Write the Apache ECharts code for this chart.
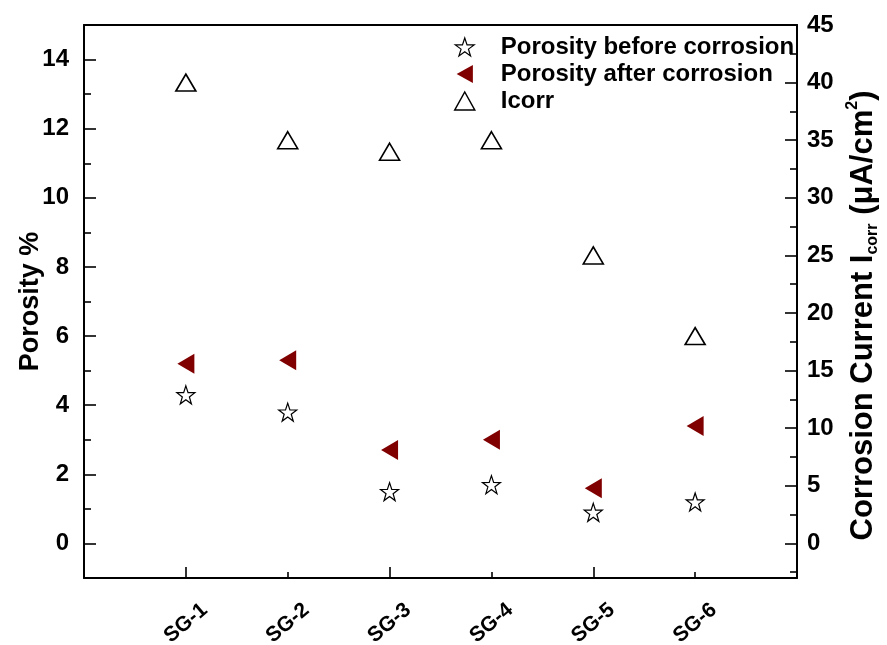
<!DOCTYPE html>
<html>
<head>
<meta charset="utf-8">
<script src="https://cdn.jsdelivr.net/npm/echarts@6/dist/echarts.min.js"></script>
<style>
html,body{margin:0;padding:0;background:#fff;}
#chart{width:887px;height:645px;}
</style>
</head>
<body>
<div id="chart"></div>
<script>
// Samples and measured values
const samples = ['SG-1', 'SG-2', 'SG-3', 'SG-4', 'SG-5', 'SG-6'];
const porosityBefore = [4.3, 3.8, 1.5, 1.7, 0.9, 1.2];
const porosityAfter = [5.2, 5.3, 2.7, 3.0, 1.6, 3.4];
const icorr = [40, 35, 34, 35, 25, 18];

// Tick positions
const leftTicks = [0, 2, 4, 6, 8, 10, 12, 14];
const leftMinor = [-1, 1, 3, 5, 7, 9, 11, 13, 15];
const rightTicks = [0, 5, 10, 15, 20, 25, 30, 35, 40, 45];
const rightMinor = [-2.5, 2.5, 7.5, 12.5, 17.5, 22.5, 27.5, 32.5, 37.5, 42.5];
const xLabelPos = [1, 2, 3, 4, 5, 6];
const xMajor = [1, 3, 5];
const xMinor = [2, 4, 6];

const FONT = '"Liberation Sans", Arial, sans-serif';
const STAR = 'path://M50,0 L61.8,35.1 L98.5,35.3 L69,57.2 L79.9,92.4 L50,71 L20.1,92.4 L31,57.2 L1.5,35.3 L38.2,35.1 Z';
const LEFT_TRI = 'path://M0,50 L90,0 L90,100 Z';

const xy = (vals) => vals.map((v, i) => [i + 1, v]);

const chart = echarts.init(document.getElementById('chart'), null, {renderer: 'canvas'});

const lineStyle = {color: '#000', width: 2};
const tickStyle = {color: '#000', width: 1.6};
const bold = (size) => ({fontFamily: FONT, fontWeight: 'bold', fontSize: size, color: '#000'});

chart.setOption({
  animation: false,
  backgroundColor: '#fff',
  grid: {left: 84, right: 90, top: 25, bottom: 67, containLabel: false, outerBoundsMode: 'none'},
  legend: {
    orient: 'vertical',
    left: 449,
    top: 30,
    itemGap: 3,
    itemWidth: 20,
    itemHeight: 18,
    textStyle: Object.assign(bold(24), {lineHeight: 22, padding: [0, 0, 0, 21]}),
    data: [
      {name: 'Porosity before corrosion', icon: STAR, itemStyle: {color: '#fff', borderColor: '#000', borderWidth: 1.2}},
      {name: 'Porosity after corrosion', icon: LEFT_TRI},
      {name: 'Icorr', icon: 'triangle', itemStyle: {color: '#fff', borderColor: '#000', borderWidth: 1.5}}
    ]
  },
  xAxis: [
    {
      type: 'value', min: 0, max: 7,
      axisLine: {onZero: false, lineStyle},
      axisTick: {inside: true, length: 11, lineStyle: tickStyle, customValues: xMajor},
      axisLabel: Object.assign(bold(21), {
        customValues: xLabelPos,
        formatter: v => samples[v - 1] || '',
        rotate: 40, margin: 45, align: 'center', verticalAlign: 'middle'
      }),
      splitLine: {show: false}
    },
    {
      type: 'value', min: 0, max: 7, position: 'bottom',
      axisLine: {onZero: false, show: false},
      axisTick: {inside: true, length: 6, lineStyle: tickStyle, customValues: xMinor},
      axisLabel: {show: false},
      splitLine: {show: false}
    },
    {
      type: 'value', min: 0, max: 7, position: 'top',
      axisLine: {onZero: false, lineStyle},
      axisTick: {show: false}, axisLabel: {show: false}, splitLine: {show: false}
    }
  ],
  yAxis: [
    {
      type: 'value', min: -1, max: 15, position: 'left',
      name: 'Porosity %', nameLocation: 'middle', nameGap: 40, nameMoveOverlap: false,
      nameTextStyle: bold(27),
      axisLine: {onZero: false, lineStyle},
      axisTick: {inside: true, length: 12, lineStyle: tickStyle, customValues: leftTicks},
      axisLabel: Object.assign(bold(24), {customValues: leftTicks, margin: 15}),
      splitLine: {show: false}
    },
    {
      type: 'value', min: -1, max: 15, position: 'left',
      axisLine: {onZero: false, show: false},
      axisTick: {inside: true, length: 7, lineStyle: tickStyle, customValues: leftMinor},
      axisLabel: {show: false}, splitLine: {show: false}
    },
    {
      type: 'value', min: -3, max: 45, position: 'right',
      name: '{t|Corrosion Current I}{s|corr}{t| (μA/cm}{p|2}{t|)}',
      nameLocation: 'middle', nameGap: 48, nameRotate: 90, nameMoveOverlap: false,
      nameTextStyle: Object.assign(bold(31), {
        padding: [0, 28, 0, 0],
        rich: {
          t: Object.assign(bold(31), {lineHeight: 36, verticalAlign: 'middle'}),
          s: Object.assign(bold(16), {lineHeight: 36, verticalAlign: 'bottom'}),
          p: Object.assign(bold(16), {lineHeight: 36, verticalAlign: 'top'})
        }
      }),
      axisLine: {onZero: false, lineStyle},
      axisTick: {inside: true, length: 12, lineStyle: tickStyle, customValues: rightTicks},
      axisLabel: Object.assign(bold(24), {customValues: rightTicks, margin: 10}),
      splitLine: {show: false}
    },
    {
      type: 'value', min: -3, max: 45, position: 'right',
      axisLine: {onZero: false, show: false},
      axisTick: {inside: true, length: 7, lineStyle: tickStyle, customValues: rightMinor},
      axisLabel: {show: false}, splitLine: {show: false}
    }
  ],
  series: [
    {
      name: 'Porosity before corrosion', type: 'scatter', xAxisIndex: 0, yAxisIndex: 0,
      symbol: STAR, symbolSize: 18,
      itemStyle: {color: '#fff', borderColor: '#000', borderWidth: 1.2, opacity: 1},
      data: xy(porosityBefore)
    },
    {
      name: 'Porosity after corrosion', type: 'scatter', xAxisIndex: 0, yAxisIndex: 0,
      symbol: LEFT_TRI, symbolSize: [17, 20],
      itemStyle: {color: '#800000', opacity: 1},
      data: xy(porosityAfter)
    },
    {
      name: 'Icorr', type: 'scatter', xAxisIndex: 0, yAxisIndex: 2,
      symbol: 'triangle', symbolSize: [20, 17],
      itemStyle: {color: '#fff', borderColor: '#000', borderWidth: 1.6, opacity: 1},
      data: xy(icorr)
    }
  ]
});
</script>
</body>
</html>
